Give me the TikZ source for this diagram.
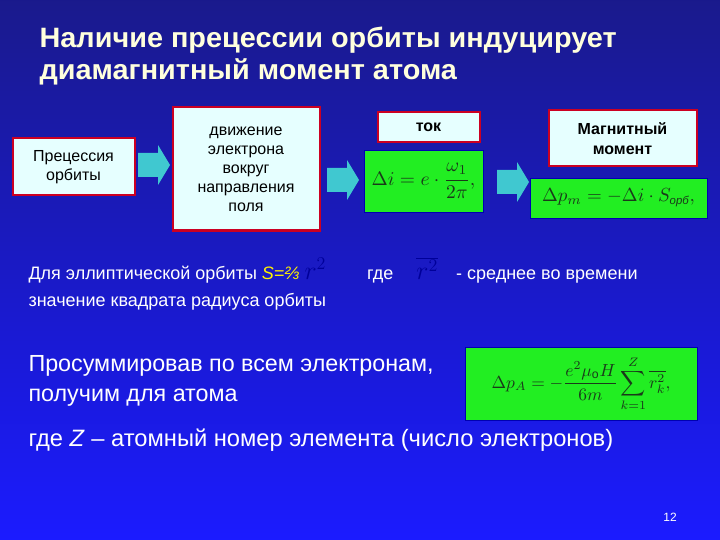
\documentclass[tikz,border=0pt]{standalone}
\usepackage{fontspec}
\usepackage{graphicx}
\setmainfont{Liberation Sans}
\definecolor{boxfill}{HTML}{E6FFFF}
\definecolor{boxred}{HTML}{CC0022}
\definecolor{grn}{HTML}{22EE22}
\definecolor{arrc}{HTML}{40C8D0}
\definecolor{titlec}{HTML}{FFFFDD}
\definecolor{formc}{HTML}{1A3A1A}
\begin{document}
\begin{tikzpicture}[x=1pt,y=-1pt,
  lbox/.style={draw=boxred,line width=2pt,fill=boxfill,align=center,font=\fontsize{16}{19}\selectfont,text=black},
  gbox/.style={fill=grn,draw=blue!70!black,line width=0.6pt,text=formc},
  wt/.style={text=white,anchor=west}]
\useasboundingbox (0,0) rectangle (720,540);
\shade[top color=blue!50!black!90,bottom color=blue!85!white!70!blue] (0,0) rectangle (720,540);
\node[anchor=west,text=titlec,font=\bfseries\fontsize{28}{32}\selectfont,xscale=1.03] (t1) at (36,40) {Наличие прецессии орбиты индуцирует};
\node[anchor=west,text=titlec,font=\bfseries\fontsize{28}{32}\selectfont,xscale=1.03] (t2) at (36,72) {диамагнитный момент атома};
\node[lbox,minimum width=122pt,minimum height=57pt] (p) at (73.5,167) {Прецессия\\орбиты};
\node[lbox,minimum width=147pt,minimum height=123pt] (d) at (246,169) {движение\\электрона\\вокруг\\направления\\поля};
\node[lbox,minimum width=102pt,minimum height=30pt,font=\bfseries\fontsize{16}{19}\selectfont] (tok) at (428.5,127.5) {ток};
\node[gbox,minimum width=119pt,minimum height=62pt] (g1) at (423.5,181) {\scalebox{1.95}{$\displaystyle \Delta i = e\cdot\frac{\omega_{1}}{2\pi},$}};
\node[lbox,minimum width=148pt,minimum height=56pt,font=\bfseries\fontsize{16}{20}\selectfont] (mm) at (622.5,138.5) {Магнитный\\момент};
\node[gbox,minimum width=177pt,minimum height=40pt] (g2) at (618.5,198) {\scalebox{1.9}{$\Delta p_m = -\Delta i\cdot S_{\mbox{\fontsize{6}{7}\selectfont\itshape орб}},$}};
\foreach \n/\x/\y in {a1/138/165, a2/327/180, a3/497/182}
  \fill[arrc] (\x,\y-12) -- (\x+20,\y-12) -- (\x+20,\y-20) -- (\x+32,\y) -- (\x+20,\y+20) -- (\x+20,\y+12) -- (\x,\y+12) -- cycle;
\node[wt,font=\fontsize{18}{20}\selectfont] (l1) at (25,270) {Для эллиптической орбиты \textcolor{yellow}{\itshape S=⅔}\ \textcolor{blue!60!black}{\scalebox{1.5}{$r^2$}}\qquad\ где \quad\textcolor{blue!60!black}{\scalebox{1.5}{$\overline{r^2}$}}\quad - среднее во времени};
\node[wt,font=\fontsize{18}{20}\selectfont] (l2) at (25,302) {значение квадрата радиуса орбиты};
\node[wt,font=\fontsize{23.3}{30}\selectfont,align=left] (l3) at (25,381) {Просуммировав по всем электронам,\\получим для атома};
\node[gbox,minimum width=232pt,minimum height=73pt] (g3) at (581,383.5) {\scalebox{1.75}{$\displaystyle \Delta p_A = -\frac{e^2\mu_{\mathrm o} H}{6m}\sum_{k=1}^{Z}\overline{r_k^2},$}};
\node[wt,font=\fontsize{23.7}{26}\selectfont] (l4) at (25,440) {где \textit{Z} – атомный номер элемента (число электронов)};
\node[text=white,font=\fontsize{12}{14}\selectfont] (n) at (670,517) {12};
\end{tikzpicture}
\end{document}
